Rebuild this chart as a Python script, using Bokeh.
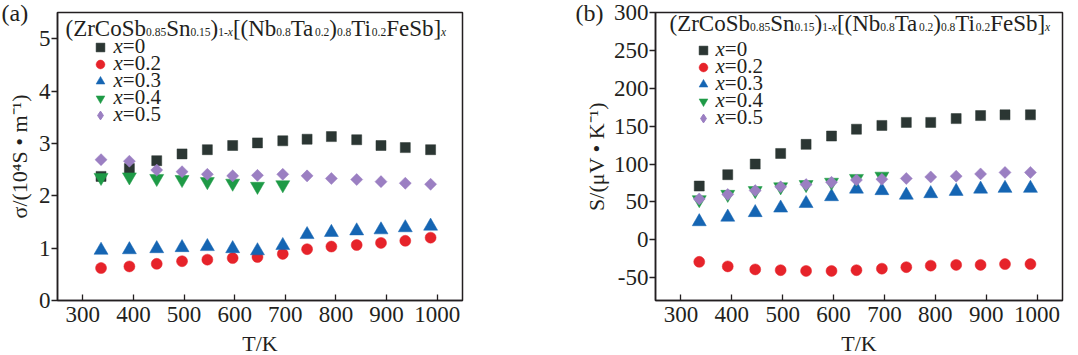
import math
from bokeh.plotting import figure
from bokeh.layouts import row
from bokeh.models import (Range1d, Legend, LegendItem, ColumnDataSource,
                          FixedTicker)
from bokeh.core.properties import value
from bokeh.embed import file_html
from bokeh.resources import INLINE

# ---------------- data ----------------
T = [336, 392, 446, 496, 546, 596, 645, 695, 743, 791, 841, 889, 937, 987]
T_x04 = [336, 392, 446, 496, 546, 596, 645, 695]

series_labels = ["x=0", "x=0.2", "x=0.3", "x=0.4", "x=0.5"]

sigma_x0 = [2.37, 2.52, 2.67, 2.80, 2.88, 2.96, 3.01, 3.05, 3.08, 3.13, 3.07, 2.96, 2.92, 2.88]
sigma_x02 = [0.62, 0.65, 0.70, 0.75, 0.78, 0.81, 0.83, 0.89, 0.98, 1.03, 1.06, 1.10, 1.14, 1.20]
sigma_x03 = [0.96, 0.97, 0.99, 1.01, 1.03, 0.99, 0.95, 1.05, 1.26, 1.30, 1.33, 1.35, 1.39, 1.42]
sigma_x04 = [2.35, 2.36, 2.33, 2.31, 2.27, 2.24, 2.18, 2.21]
sigma_x05 = [2.69, 2.66, 2.49, 2.46, 2.41, 2.38, 2.39, 2.41, 2.38, 2.33, 2.31, 2.27, 2.24, 2.22]

S_x0 = [71, 86, 100, 114, 126, 137, 146, 151, 155, 155, 160, 164, 165, 165]
S_x02 = [-29, -35, -39, -40, -41, -41, -40, -38, -36, -34, -33, -33, -32, -32]
S_x03 = [24, 30, 36, 42, 48, 57, 67, 65, 59, 61, 64, 67, 68, 68]
S_x04 = [53, 60, 65, 70, 73, 76, 81, 84]
S_x05 = [54, 60, 65, 70, 73, 76, 79, 80, 81, 83, 84, 87, 89, 89]

x_ticks = [300, 400, 500, 600, 700, 800, 900, 1000]
sigma_ticks = [0, 1, 2, 3, 4, 5]
S_ticks = [-50, 0, 50, 100, 150, 200, 250, 300]

title_text = ["(ZrCoSb", "0.85", "Sn", "0.15", ")", "1-", "x", "[(Nb", "0.8",
              "Ta", "0.2", ")", "0.8", "Ti", "0.2", "FeSb]", "x"]
title_kind = ["m", "s", "m", "s", "m", "s", "si", "m", "s", "m", "s", "m", "s",
              "m", "s", "m", "si"]

# ---------------- style ----------------
FONT = "Liberation Serif"
INK = "#231f20"
COLORS = ["#2b3633", "#e6232a", "#1565b3", "#1e9a46", "#9b7fc2"]
FH = 288          # frame height in px
TOP = 12          # border above the frame
TXT_DY = -8       # baseline correction for text glyphs

# Times / Liberation Serif advance widths (per 1000 em)
ADV = {'(': 333, ')': 333, '[': 333, ']': 333, 'Z': 611, 'r': 333, 'C': 667,
       'o': 500, 'S': 556, 'b': 500, 'n': 500, 'N': 722, 'T': 611, 'a': 444,
       'i': 278, 'F': 556, 'e': 444, '.': 250, '-': 333, 'x': 444, '=': 564}


def adv(s):
    return sum(ADV.get(c, 500) for c in s) / 1000.0


def add_texts(p, x0, y0, texts, xo, yo, sizes, styles, level="glyph"):
    n = len(texts)
    src = ColumnDataSource(dict(x=[x0] * n, y=[y0] * n, text=texts, xo=xo,
                                yo=[v + TXT_DY for v in yo],
                                size=sizes, style=styles))
    p.text(x="x", y="y", text="text", x_offset="xo", y_offset="yo",
           text_font_size="size", text_font_style="style",
           text_font=value(FONT), text_color=INK, text_align="left",
           text_baseline="alphabetic", source=src, level=level)


def add_title(p, x0, y0, main_px, sub_px, base_dy, sub_dy, lead):
    xo, yo, sizes, styles = [], [], [], []
    pos = lead
    for t, k in zip(title_text, title_kind):
        size = main_px if k == "m" else sub_px
        xo.append(pos)
        yo.append(base_dy + (0 if k == "m" else sub_dy))
        sizes.append("%gpx" % size)
        styles.append("italic" if k == "si" else "normal")
        pos += adv(t) * size
    add_texts(p, x0, y0, title_text, xo, yo, sizes, styles)


def make_panel(tag, ylist, yr, yticks, ylabel, border_left, border_right,
               frame_w, axis_label_standoff, title_lead, title_base,
               leg_x, leg_centers, lab_x, tag_xoff):
    p = figure(frame_width=frame_w, frame_height=FH,
               x_range=Range1d(250, 1050), y_range=Range1d(*yr),
               output_backend="svg", toolbar_location=None,
               min_border_left=border_left, min_border_right=border_right,
               min_border_top=TOP, min_border_bottom=55,
               background_fill_color="white", border_fill_color="white")
    p.xgrid.visible = False
    p.ygrid.visible = False
    p.outline_line_color = INK
    p.outline_line_width = 1.5

    for ax in (p.xaxis[0], p.yaxis[0]):
        ax.axis_line_color = INK
        ax.axis_line_width = 1.5
        ax.major_tick_line_color = INK
        ax.major_tick_line_width = 1.3
        ax.minor_tick_line_color = None
        ax.major_label_text_font = FONT
        ax.major_label_text_font_size = "23px"
        ax.major_label_text_color = INK
        ax.axis_label_text_font = FONT
        ax.axis_label_text_font_size = "22px"
        ax.axis_label_text_font_style = "normal"
        ax.axis_label_text_color = INK
    xa = p.xaxis[0]
    xa.ticker = FixedTicker(ticks=x_ticks)
    xa.major_tick_in = 6
    xa.major_tick_out = 0
    xa.major_label_standoff = 6
    xa.axis_label = "T/K"
    xa.axis_label_standoff = 6
    ya = p.yaxis[0]
    ya.ticker = FixedTicker(ticks=yticks)
    ya.major_tick_in = 0
    ya.major_tick_out = 6
    ya.major_label_standoff = 1
    ya.axis_label = ylabel
    ya.axis_label_standoff = axis_label_standoff
    ya.major_label_overrides = {t: str(t) for t in yticks}

    xs_list = [T, T, T, T_x04, T]
    markers = ["square", "circle", "triangle", "inverted_triangle", "square"]
    sizes = [10, 11, 14, 14, 8.5]
    angles = [0, 0, 0, 0, math.pi / 4]
    rends = []
    for i, (xs, ys, m, s, a, c) in enumerate(zip(xs_list, ylist, markers, sizes, angles, COLORS)):
        if i == 4:
            # diamond glyph for the legend, hidden under the wider rotated squares
            rends.append(p.scatter(xs, ys, marker="diamond", size=10,
                                   fill_color=c, line_color=c))
            p.scatter(xs, ys, marker=m, size=s, angle=a, fill_color=c,
                      line_color=c, line_width=0.5)
        else:
            rends.append(p.scatter(xs, ys, marker=m, size=s, angle=a,
                                   fill_color=c, line_color=c, line_width=0.5))

    # two interleaved legends give a 17 px row pitch with 22 px glyph boxes
    box = 22
    for idx in ([0, 2, 4], [1, 3]):
        items = [LegendItem(label=" ", renderers=[rends[i]]) for i in idx]
        top = leg_centers[idx[0]] - box / 2
        height = len(idx) * box + (len(idx) - 1) * 12
        legend = Legend(items=items, location=(leg_x - box / 2, FH - top - height),
                        orientation="vertical", padding=0, margin=0, spacing=12,
                        glyph_width=box, glyph_height=box, label_height=box,
                        label_width=1, label_standoff=0,
                        label_text_font=FONT, label_text_font_size="1px",
                        border_line_color=None, background_fill_alpha=0)
        p.add_layout(legend)

    # legend texts: italic x + upright remainder
    texts, xo, yo, szs, sts = [], [], [], [], []
    for lab, cy in zip(series_labels, leg_centers):
        texts += [lab[0], lab[1:]]
        xo += [lab_x, lab_x + adv("x") * 21]
        yo += [cy + 6, cy + 6]
        szs += ["21px", "21px"]
        sts += ["italic", "normal"]
    add_texts(p, 250, yr[1], texts, xo, yo, szs, sts)

    add_title(p, 250, yr[1], 23, 11.5, title_base, 3, title_lead)

    add_texts(p, 250, yr[1], [tag], [tag_xoff], [8], ["24px"], ["normal"],
              level="overlay")
    return p


# legend row centres / title baselines are measured from the top of each frame
pa = make_panel("(a)", [sigma_x0, sigma_x02, sigma_x03, sigma_x04, sigma_x05],
                (0, 5.5), sigma_ticks, "σ/(10⁴S • m⁻¹)", 57, 78, 405, 4,
                8, 24, 43, [35, 52, 69, 86, 103], 56, -56)
pb = make_panel("(b)", [S_x0, S_x02, S_x03, S_x04, S_x05],
                (-80, 300), S_ticks, "S/(μV • K⁻¹)", 115, 16, 407, 2,
                14, 19, 48, [38, 55, 72, 89, 106], 60, -80)

layout = row(pa, pb)
open("out.html", "w").write(file_html(layout, INLINE))
